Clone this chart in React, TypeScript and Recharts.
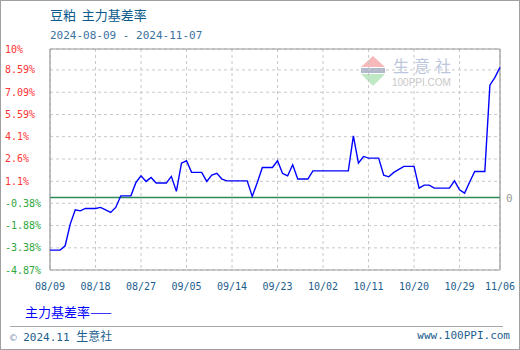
import { LineChart, Line, XAxis, YAxis, CartesianGrid, ReferenceLine } from "recharts";

// one value per calendar day from 08/09 (weekends / holidays carry the last value)
const basisRate = [
  -3.53, -3.53, -3.53, -3.24, -1.78, -0.82, -0.89, -0.73, -0.73, -0.73,
  -0.66, -0.82, -1.0, -0.66, 0.12, 0.12, 0.12, 1.02, 1.47, 1.09,
  1.36, 0.98, 0.98, 0.98, 1.43, 0.42, 2.32, 2.48, 1.7, 1.7,
  1.7, 1.09, 1.51, 1.63, 1.25, 1.13, 1.13, 1.13, 1.13, 1.13,
  0.08, 1.02, 2.03, 2.03, 2.03, 2.48, 1.63, 1.47, 2.21, 1.25,
  1.25, 1.25, 1.8, 1.8, 1.8, 1.8, 1.8, 1.8, 1.8, 1.8,
  4.16, 2.32, 2.77, 2.66, 2.66, 2.66, 1.51, 1.4, 1.7, 1.9,
  2.1, 2.1, 2.1, 0.64, 0.84, 0.84, 0.64, 0.64, 0.64, 0.64,
  1.13, 0.53, 0.3, 1.05, 1.76, 1.76, 1.76, 7.57, 8.09, 8.76,
];

const xTicks = [0, 9, 18, 27, 36, 45, 54, 63, 72, 81, 89];
const xTickLabels = ["08/09", "08/18", "08/27", "09/05", "09/14", "09/23", "10/02", "10/11", "10/20", "10/29", "11/06"];
const yTicks = [10, 8.59, 7.09, 5.59, 4.1, 2.6, 1.1, -0.38, -1.88, -3.38, -4.87];

const data = basisRate.map((v, i) => ({ day: i, rate: v }));

const mono = "'DejaVu Sans Mono', monospace";
const cjk = "'Noto Sans CJK SC', sans-serif";
const blueText = "#1d5e8e";

const YTick = ({ y, payload }: any) => (
  <text x={5} y={y} dy={3.5} fontSize={10} fontFamily={mono} fill={payload.value < 0 ? "#2ea63a" : "#ff3333"}>
    {payload.value}%
  </text>
);

const XTick = ({ x, payload }: any) => (
  <text x={x} y={290} textAnchor="middle" fontSize={10} fontFamily={mono} fill={blueText}>
    {xTickLabels[xTicks.indexOf(payload.value)]}
  </text>
);

function Watermark() {
  return (
    <svg width={110} height={36} style={{ position: "absolute", left: 358, top: 53 }}>
      <polygon points="2,13 14,2 26,13" fill="#f6b8b8" />
      <rect x={2} y={14} width={24} height={5} fill="#b0b8cc" />
      <polygon points="2,20 26,20 14,32" fill="#bfe8c4" />
      <text x={34} y={18} fontSize={16} fontFamily={cjk} fill="#bcc6dc" letterSpacing={5}>生意社</text>
      <text x={33} y={32} fontSize={10} fontFamily="Arial, 'Liberation Sans', sans-serif" fill="#c8c8c8">100PPI.COM</text>
    </svg>
  );
}

export default function App() {
  return (
    <div
      style={{
        position: "absolute",
        left: 0,
        top: 0,
        width: 520,
        height: 350,
        border: "1px solid #a0a0a0",
        boxSizing: "border-box",
        background: "#fff",
        overflow: "hidden",
      }}
    >
      <div style={{ position: "absolute", left: 49, top: 5, fontSize: 13, fontFamily: cjk, color: "#0b5a8c", lineHeight: "18px", whiteSpace: "pre" }}>
        豆粕  主力基差率
      </div>
      <div style={{ position: "absolute", left: 49, top: 27, fontSize: 11, fontFamily: mono, color: "#3a72a2", lineHeight: "16px", whiteSpace: "pre" }}>
        2024-08-09 - 2024-11-07
      </div>

      <Watermark />

      <div style={{ position: "absolute", left: -1, top: -1 }}>
        <LineChart width={520} height={350} data={data} margin={{ top: 49, right: 20, bottom: 50, left: 0 }}>
          <CartesianGrid stroke="#c8c8c8" strokeDasharray="3 3" />
          <XAxis
            dataKey="day"
            type="number"
            domain={[0, 89]}
            ticks={xTicks}
            interval={0}
            axisLine={false}
            tickLine={false}
            tick={<XTick />}
            height={30}
          />
          <YAxis
            type="number"
            domain={[-4.87, 10]}
            ticks={yTicks}
            interval={0}
            axisLine={false}
            tickLine={false}
            tick={<YTick />}
            width={50}
          />
          <ReferenceLine y={10} stroke="#999" strokeWidth={1.2} />
          <ReferenceLine y={-4.87} stroke="#999" strokeWidth={1.2} />
          <ReferenceLine x={0} stroke="#999" strokeWidth={1.2} />
          <ReferenceLine x={89} stroke="#999" strokeWidth={1.2} />
          <ReferenceLine
            y={0}
            stroke="#2e8b57"
            strokeWidth={1.5}
            label={{ value: "0", position: "right", fill: "#999", fontSize: 11, fontFamily: mono, offset: 6 }}
          />
          <Line
            type="linear"
            dataKey="rate"
            stroke="#0000ff"
            strokeWidth={1.4}
            dot={false}
            isAnimationActive={false}
          />
        </LineChart>
      </div>

      <div style={{ position: "absolute", left: 24, top: 302, fontSize: 13, fontFamily: cjk, color: "#0000ff", lineHeight: "18px", whiteSpace: "pre" }}>
        主力基差率——
      </div>
      <div style={{ position: "absolute", left: 9, top: 325, width: 493, borderTop: "1px solid #a8a8a8" }} />
      <div style={{ position: "absolute", left: 9, top: 327, fontSize: 11, fontFamily: mono, color: blueText, lineHeight: "16px", whiteSpace: "pre" }}>
        <span style={{ color: "#8aa0b8" }}>©</span> 2024.11 <span style={{ fontFamily: cjk, fontSize: 12 }}>生意社</span>
      </div>
      <div style={{ position: "absolute", right: 9, top: 327, fontSize: 11, fontFamily: mono, color: blueText, lineHeight: "16px" }}>
        www.100PPI.com
      </div>
    </div>
  );
}
